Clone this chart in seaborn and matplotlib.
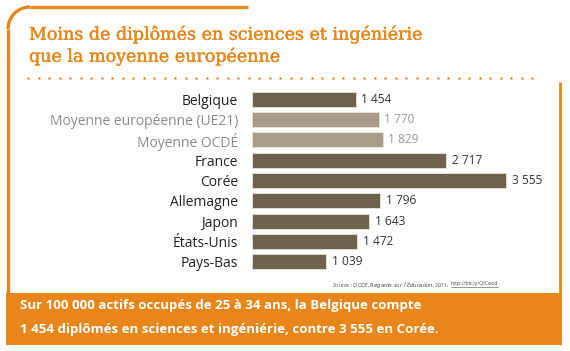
import numpy as np
import pandas as pd
import seaborn as sns
from matplotlib import pyplot as plt
from matplotlib.patches import Arc, Rectangle
import matplotlib.patheffects as pe

sns.set_style("white")
plt.rcParams["font.family"] = ["Open Sans", "DejaVu Sans"]

countries = ["Belgique", "Moyenne européenne (UE21)", "Moyenne OCDÉ", "France",
             "Corée", "Allemagne", "Japon", "États-Unis", "Pays-Bas"]
values = [1454, 1770, 1829, 2717, 3555, 1796, 1643, 1472, 1039]
value_labels = ["1 454", "1 770", "1 829", "2 717", "3 555", "1 796", "1 643", "1 472", "1 039"]
is_average = [False, True, True, False, False, False, False, False, False]

ORANGE = "#e8861a"
DARK = "#6f624c"
LIGHT = "#a99d89"

df = pd.DataFrame({"pays": countries, "valeur": values, "moyenne": is_average})

W, H = 570, 351
fig = plt.figure(figsize=(W / 100, H / 100), dpi=100)

# decoration layer in pixel coordinates
deco = fig.add_axes([0, 0, 1, 1])
deco.set_xlim(0, W)
deco.set_ylim(H, 0)
deco.axis("off")

r = 22
deco.plot([8 + r, 248], [7, 7], color=ORANGE, lw=2.4, solid_capstyle="butt")
deco.add_patch(Arc((8 + r, 7 + r), 2 * r, 2 * r, theta1=180, theta2=270,
                   color=ORANGE, lw=2.4))
deco.plot([8, 8], [7 + r, 293], color=ORANGE, lw=2.4, solid_capstyle="butt")
deco.plot([560, 560], [82, 293], color=ORANGE, lw=2.0, solid_capstyle="butt")
deco.add_patch(Rectangle((6, 293), 556, 52, color=ORANGE, lw=0))

dots_x = np.arange(28, 536, 10.5)
deco.scatter(dots_x, np.full(len(dots_x), 78), s=3, color=ORANGE, lw=0)

title_lines = ["Moins de diplômés en sciences et ingéniérie", "que la moyenne européenne"]
for k, line in enumerate(title_lines):
    deco.text(29, 35 + 22 * k, line, color=ORANGE, fontsize=12.6,
              family=["DejaVu Serif"], va="center",
              path_effects=[pe.withStroke(linewidth=0.3, foreground=ORANGE)])

band_lines = ["Sur 100 000 actifs occupés de 25 à 34 ans, la Belgique compte",
              "1 454 diplômés en sciences et ingéniérie, contre 3 555 en Corée."]
for k, line in enumerate(band_lines):
    deco.text(20, 306 + 24 * k, line, color="white", fontsize=9.5,
              fontweight="bold", va="center")

# source line: link right-aligned, the rest in front of it
link = deco.text(498, 284, "http://bit.ly/QICeod", fontsize=3.8, color="#444444",
                 ha="right", va="center")
fig.canvas.draw()
bb = link.get_window_extent().transformed(deco.transData.inverted())
x0, x1 = min(bb.x0, bb.x1), max(bb.x0, bb.x1)
deco.plot([x0, x1], [287, 287], color="#444444", lw=0.4)
deco.text(x0 - 1, 284, "Source : OCDÉ, $\\it{Regards\\ sur\\ l'Éducation}$, 2011,",
          fontsize=3.8, color="#444444", ha="right", va="center")

# bar chart
ax = fig.add_axes([252 / W, 1 - 272 / H, (4000 * 0.0715) / W, (272 - 89) / H])
sns.barplot(data=df, x="valeur", y="pays", hue="moyenne",
            palette={False: DARK, True: LIGHT}, dodge=False, legend=False,
            width=0.75, ax=ax, saturation=1, edgecolor="#e8e4dc", linewidth=0.6)
ax.set_xlim(0, 4000)
ax.set_xlabel("")
ax.set_ylabel("")
ax.set_xticks([])
sns.despine(ax=ax, left=True, bottom=True)
ax.tick_params(axis="y", length=0, pad=10)
for lab, avg in zip(ax.get_yticklabels(), is_average):
    lab.set_fontsize(10)
    lab.set_color("#8a8a8a" if avg else "#222222")
for i, (v, t, avg) in enumerate(zip(values, value_labels, is_average)):
    ax.text(v + 75, i, t, va="center", ha="left", fontsize=8.6,
            color="#999999" if avg else "#333333")
ax.patch.set_alpha(0)

fig.savefig("out.png", dpi=100)
